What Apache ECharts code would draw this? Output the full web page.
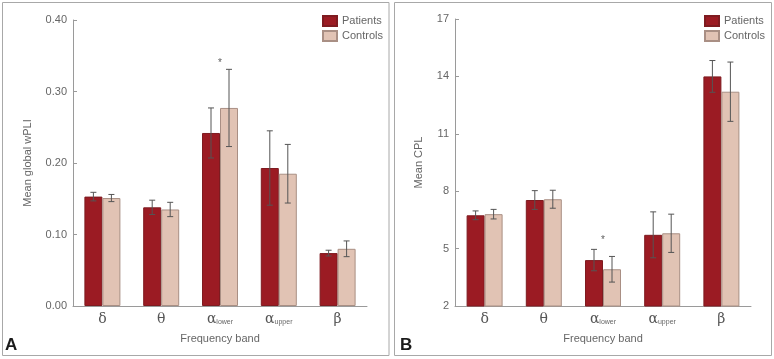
<!DOCTYPE html>
<html>
<head>
<meta charset="utf-8">
<script src="https://cdn.jsdelivr.net/npm/echarts@6/dist/echarts.min.js"></script>
<style>
  html, body { margin: 0; padding: 0; background: #fff; }
  #chart { width: 774px; height: 359px; }
</style>
</head>
<body>
<div id="chart"></div>
<script>
// 数据
const bands = ['δ', 'θ', 'αlower', 'αupper', 'β'];

const wpliPatients = [0.153, 0.138, 0.242, 0.193, 0.074];
const wpliPatientsErr = [0.006, 0.010, 0.035, 0.052, 0.004];
const wpliControls = [0.151, 0.135, 0.277, 0.185, 0.080];
const wpliControlsErr = [0.005, 0.010, 0.054, 0.041, 0.011];
const wpliSig = [[2, 0.344]];

const cplPatients = [6.74, 7.54, 4.40, 5.72, 14.0];
const cplPatientsErr = [0.23, 0.49, 0.56, 1.2, 0.83];
const cplControls = [6.80, 7.58, 3.92, 5.80, 13.2];
const cplControlsErr = [0.25, 0.47, 0.67, 1.0, 1.55];
const cplSig = [[2, 5.57]];

const FONT = 'Liberation Sans, Arial, sans-serif';
const TEXT = '#666';
const AXIS = '#9a9a9a';
const PAT = '#9b1b23';
const CON = '#e1c3b4';
const BAR_W = 18;

// 类目标签：α 带下标
const labelFormatter = (v) => {
  if (v === 'αlower') return '{g|α}{s|lower}';
  if (v === 'αupper') return '{g|α}{s|upper}';
  return '{g|' + v + '}';
};

const makeXAxis = (gridIndex) => ({
  type: 'category',
  gridIndex,
  data: bands,
  axisLine: { lineStyle: { color: AXIS, width: 1 } },
  axisTick: { show: false },
  axisLabel: {
    interval: 0,
    margin: 6,
    formatter: labelFormatter,
    rich: {
      g: { fontFamily: 'DejaVu Serif, serif', fontSize: 14, color: '#555' },
      s: { fontFamily: FONT, fontSize: 7, color: '#666', padding: [6, 0, 0, 0] }
    }
  },
  name: 'Frequency band',
  nameLocation: 'middle',
  nameGap: 27,
  nameTextStyle: { fontFamily: FONT, fontSize: 11, color: TEXT }
});

const makeYAxis = (gridIndex, min, max, interval, name, gap, digits) => ({
  type: 'value',
  gridIndex,
  min, max, interval,
  splitLine: { show: false },
  axisLine: { show: true, lineStyle: { color: AXIS, width: 1 } },
  axisTick: { show: true, inside: true, length: 4, lineStyle: { color: AXIS } },
  axisLabel: {
    margin: 6,
    fontFamily: FONT, fontSize: 11, color: TEXT,
    formatter: (v) => v.toFixed(digits)
  },
  name,
  nameLocation: 'middle',
  nameGap: gap,
  nameTextStyle: { fontFamily: FONT, fontSize: 11, color: TEXT }
});

const makeBar = (name, data, idx, color, border) => ({
  name,
  type: 'bar',
  xAxisIndex: idx,
  yAxisIndex: idx,
  data,
  barWidth: BAR_W,
  barGap: '0%',
  itemStyle: { color, borderColor: border, borderWidth: 1 },
  emphasis: { disabled: true },
  z: 2
});

// 误差线（custom series）
const makeErr = (values, errs, idx, offset) => ({
  type: 'custom',
  xAxisIndex: idx,
  yAxisIndex: idx,
  data: values.map((v, i) => [i, v - errs[i], v + errs[i]]),
  renderItem: (params, api) => {
    const lo = api.coord([api.value(0), api.value(1)]);
    const hi = api.coord([api.value(0), api.value(2)]);
    const x = lo[0] + offset;
    const cap = 3;
    const style = { stroke: '#555', lineWidth: 1 };
    return {
      type: 'group',
      children: [
        { type: 'line', shape: { x1: x, y1: lo[1], x2: x, y2: hi[1] }, style },
        { type: 'line', shape: { x1: x - cap, y1: hi[1], x2: x + cap, y2: hi[1] }, style },
        { type: 'line', shape: { x1: x - cap, y1: lo[1], x2: x + cap, y2: lo[1] }, style }
      ]
    };
  },
  silent: true,
  z: 5
});

const makeSig = (data, idx) => ({
  type: 'scatter',
  xAxisIndex: idx,
  yAxisIndex: idx,
  data,
  symbolSize: 0,
  silent: true,
  label: {
    show: true,
    position: 'inside',
    formatter: '*',
    offset: [0, 3],
    fontFamily: FONT,
    fontSize: 10,
    color: '#333'
  }
});

const makeLegend = (left) => ({
  orient: 'vertical',
  left,
  top: 15,
  padding: 0,
  icon: 'rect',
  itemWidth: 14,
  itemHeight: 10,
  itemGap: 3,
  data: ['Patients', 'Controls'],
  textStyle: { fontFamily: FONT, fontSize: 11, color: TEXT },
  selectedMode: false
});

const myChart = echarts.init(document.getElementById('chart'), null, { renderer: 'canvas' });

const option = {
  animation: false,
  backgroundColor: '#fff',
  grid: [
    { left: 73, top: 20, width: 294, height: 286 },
    { left: 455, top: 19, width: 296, height: 287 }
  ],
  legend: [makeLegend(322), makeLegend(704)],
  xAxis: [makeXAxis(0), makeXAxis(1)],
  yAxis: [
    makeYAxis(0, 0, 0.4, 0.1, 'Mean global wPLI', 40, 2),
    makeYAxis(1, 2, 17, 3, 'Mean CPL', 31, 0)
  ],
  series: [
    makeBar('Patients', wpliPatients, 0, PAT, '#7e1b20'),
    makeBar('Controls', wpliControls, 0, CON, '#a98f84'),
    makeErr(wpliPatients, wpliPatientsErr, 0, -BAR_W / 2),
    makeErr(wpliControls, wpliControlsErr, 0, BAR_W / 2),
    makeSig(wpliSig, 0),
    makeBar('Patients', cplPatients, 1, PAT, '#7e1b20'),
    makeBar('Controls', cplControls, 1, CON, '#a98f84'),
    makeErr(cplPatients, cplPatientsErr, 1, -BAR_W / 2),
    makeErr(cplControls, cplControlsErr, 1, BAR_W / 2),
    makeSig(cplSig, 1)
  ],
  graphic: [
    { type: 'rect', shape: { x: 2.5, y: 2.5, width: 386.5, height: 353 },
      style: { fill: 'none', stroke: '#a8a8a8', lineWidth: 1 }, z: -1 },
    { type: 'rect', shape: { x: 394.5, y: 2.5, width: 377, height: 353 },
      style: { fill: 'none', stroke: '#a8a8a8', lineWidth: 1 }, z: -1 },
    { type: 'text', left: 5, top: 337,
      style: { text: 'A', font: 'bold 17px Liberation Sans, Arial, sans-serif', fill: '#1a1a1a' } },
    { type: 'text', left: 400, top: 337,
      style: { text: 'B', font: 'bold 17px Liberation Sans, Arial, sans-serif', fill: '#1a1a1a' } }
  ]
};

myChart.setOption(option);
</script>
</body>
</html>
